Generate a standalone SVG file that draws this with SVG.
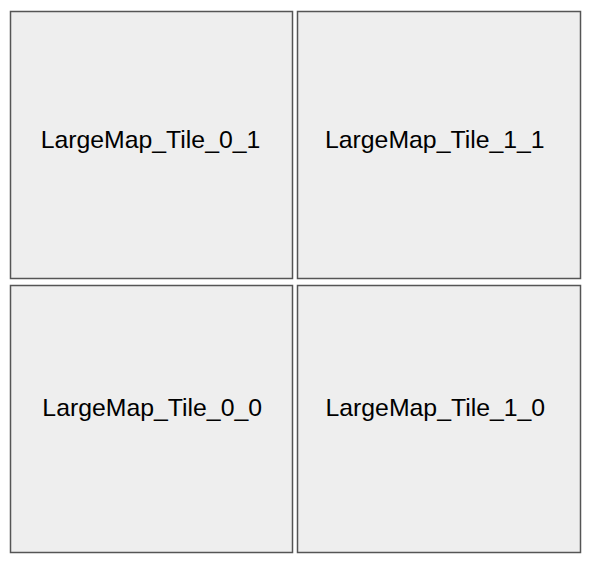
<svg xmlns="http://www.w3.org/2000/svg" width="590" height="562" viewBox="0 0 590 562">
<style>
.tile{fill:#eeeeee;stroke:#555555;stroke-width:1.5}
.lbl{font-family:"Liberation Sans",Arial,sans-serif;font-size:24.8px;fill:#000000;text-anchor:middle}
</style>
<rect width="590" height="562" fill="#ffffff"/>
<g id="tile_0_1"><rect class="tile" x="10.5" y="11.5" width="282" height="267"/><text class="lbl" x="150.5" y="148.3">LargeMap_Tile_0_1</text></g>
<g id="tile_1_1"><rect class="tile" x="297.5" y="11.5" width="283" height="267"/><text class="lbl" x="434.8" y="147.5">LargeMap_Tile_1_1</text></g>
<g id="tile_0_0"><rect class="tile" x="10.5" y="285.5" width="282" height="267"/><text class="lbl" x="152.2" y="416.2">LargeMap_Tile_0_0</text></g>
<g id="tile_1_0"><rect class="tile" x="297.5" y="285.5" width="283" height="267"/><text class="lbl" x="435.3" y="416.2">LargeMap_Tile_1_0</text></g>
<g id="connectors"></g>
</svg>
